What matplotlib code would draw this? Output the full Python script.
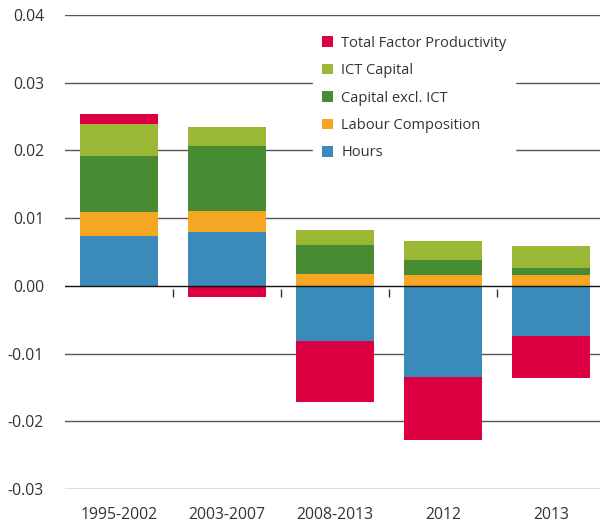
import matplotlib.pyplot as plt
import numpy as np

plt.rcParams['font.family'] = ['Open Sans', 'DejaVu Sans']

cats = ['1995-2002', '2003-2007', '2008-2013', '2012', '2013']
hours = [0.0074, 0.0079, -0.0081, -0.0135, -0.0074]
labour = [0.00345, 0.0031, 0.0018, 0.0016, 0.0016]
capital = [0.0084, 0.0096, 0.0043, 0.0022, 0.0010]
ict = [0.0047, 0.0028, 0.0022, 0.0028, 0.0033]
tfp = [0.0015, -0.0017, -0.0091, -0.0093, -0.0062]

series = [('Hours', hours, '#3a8bba'),
          ('Labour Composition', labour, '#f5a623'),
          ('Capital excl. ICT', capital, '#478b33'),
          ('ICT Capital', ict, '#9ab835'),
          ('Total Factor Productivity', tfp, '#dc0043')]

fig = plt.figure(figsize=(6, 5.22), dpi=100)
ax = fig.add_axes([0.108, 0.0632, 0.892, 0.908])

x = np.arange(len(cats))
pos = np.zeros(len(cats))
neg = np.zeros(len(cats))
handles = {}
for name, vals, col in series:
    v = np.array(vals)
    bottom = np.where(v >= 0, pos, neg)
    b = ax.bar(x, v, 0.72, bottom=bottom, color=col, label=name, zorder=3)
    handles[name] = b
    pos = np.where(v >= 0, pos + v, pos)
    neg = np.where(v < 0, neg + v, neg)

ax.set_ylim(-0.03, 0.04)
ax.set_xlim(-0.5, 4.45)
ticks = np.arange(-0.03, 0.041, 0.01)
ax.set_yticks(ticks)
ax.set_yticklabels(['%.2f' % t for t in ticks])
for t in ticks:
    if abs(t) > 1e-9:
        ax.axhline(t, color='#555555', lw=1, zorder=1)
ax.axhline(0, color='#111111', lw=1, zorder=4)
ax.vlines(x[:-1] + 0.5, -0.0004, -0.0016, color='#333333', lw=1, zorder=4)

ax.set_xticks(x)
ax.set_xticklabels(cats)
ax.tick_params(axis='both', length=0, labelsize=11.3, colors='#333333')
ax.tick_params(axis='x', pad=13)
ax.tick_params(axis='y', pad=15)
for s in ax.spines.values():
    s.set_visible(False)

order = ['Total Factor Productivity', 'ICT Capital', 'Capital excl. ICT',
         'Labour Composition', 'Hours']
leg = ax.legend([handles[n] for n in order], order, loc='upper left',
                bbox_to_anchor=(0.45, 0.99), frameon=True, framealpha=1,
                edgecolor='white', fancybox=False, fontsize=10.5,
                handlelength=0.75, handleheight=0.75, handletextpad=0.6,
                labelspacing=0.85, borderpad=0.6)
leg.set_zorder(5)
for t in leg.get_texts():
    t.set_color('#333333')

fig.savefig('out.png', dpi=100)
